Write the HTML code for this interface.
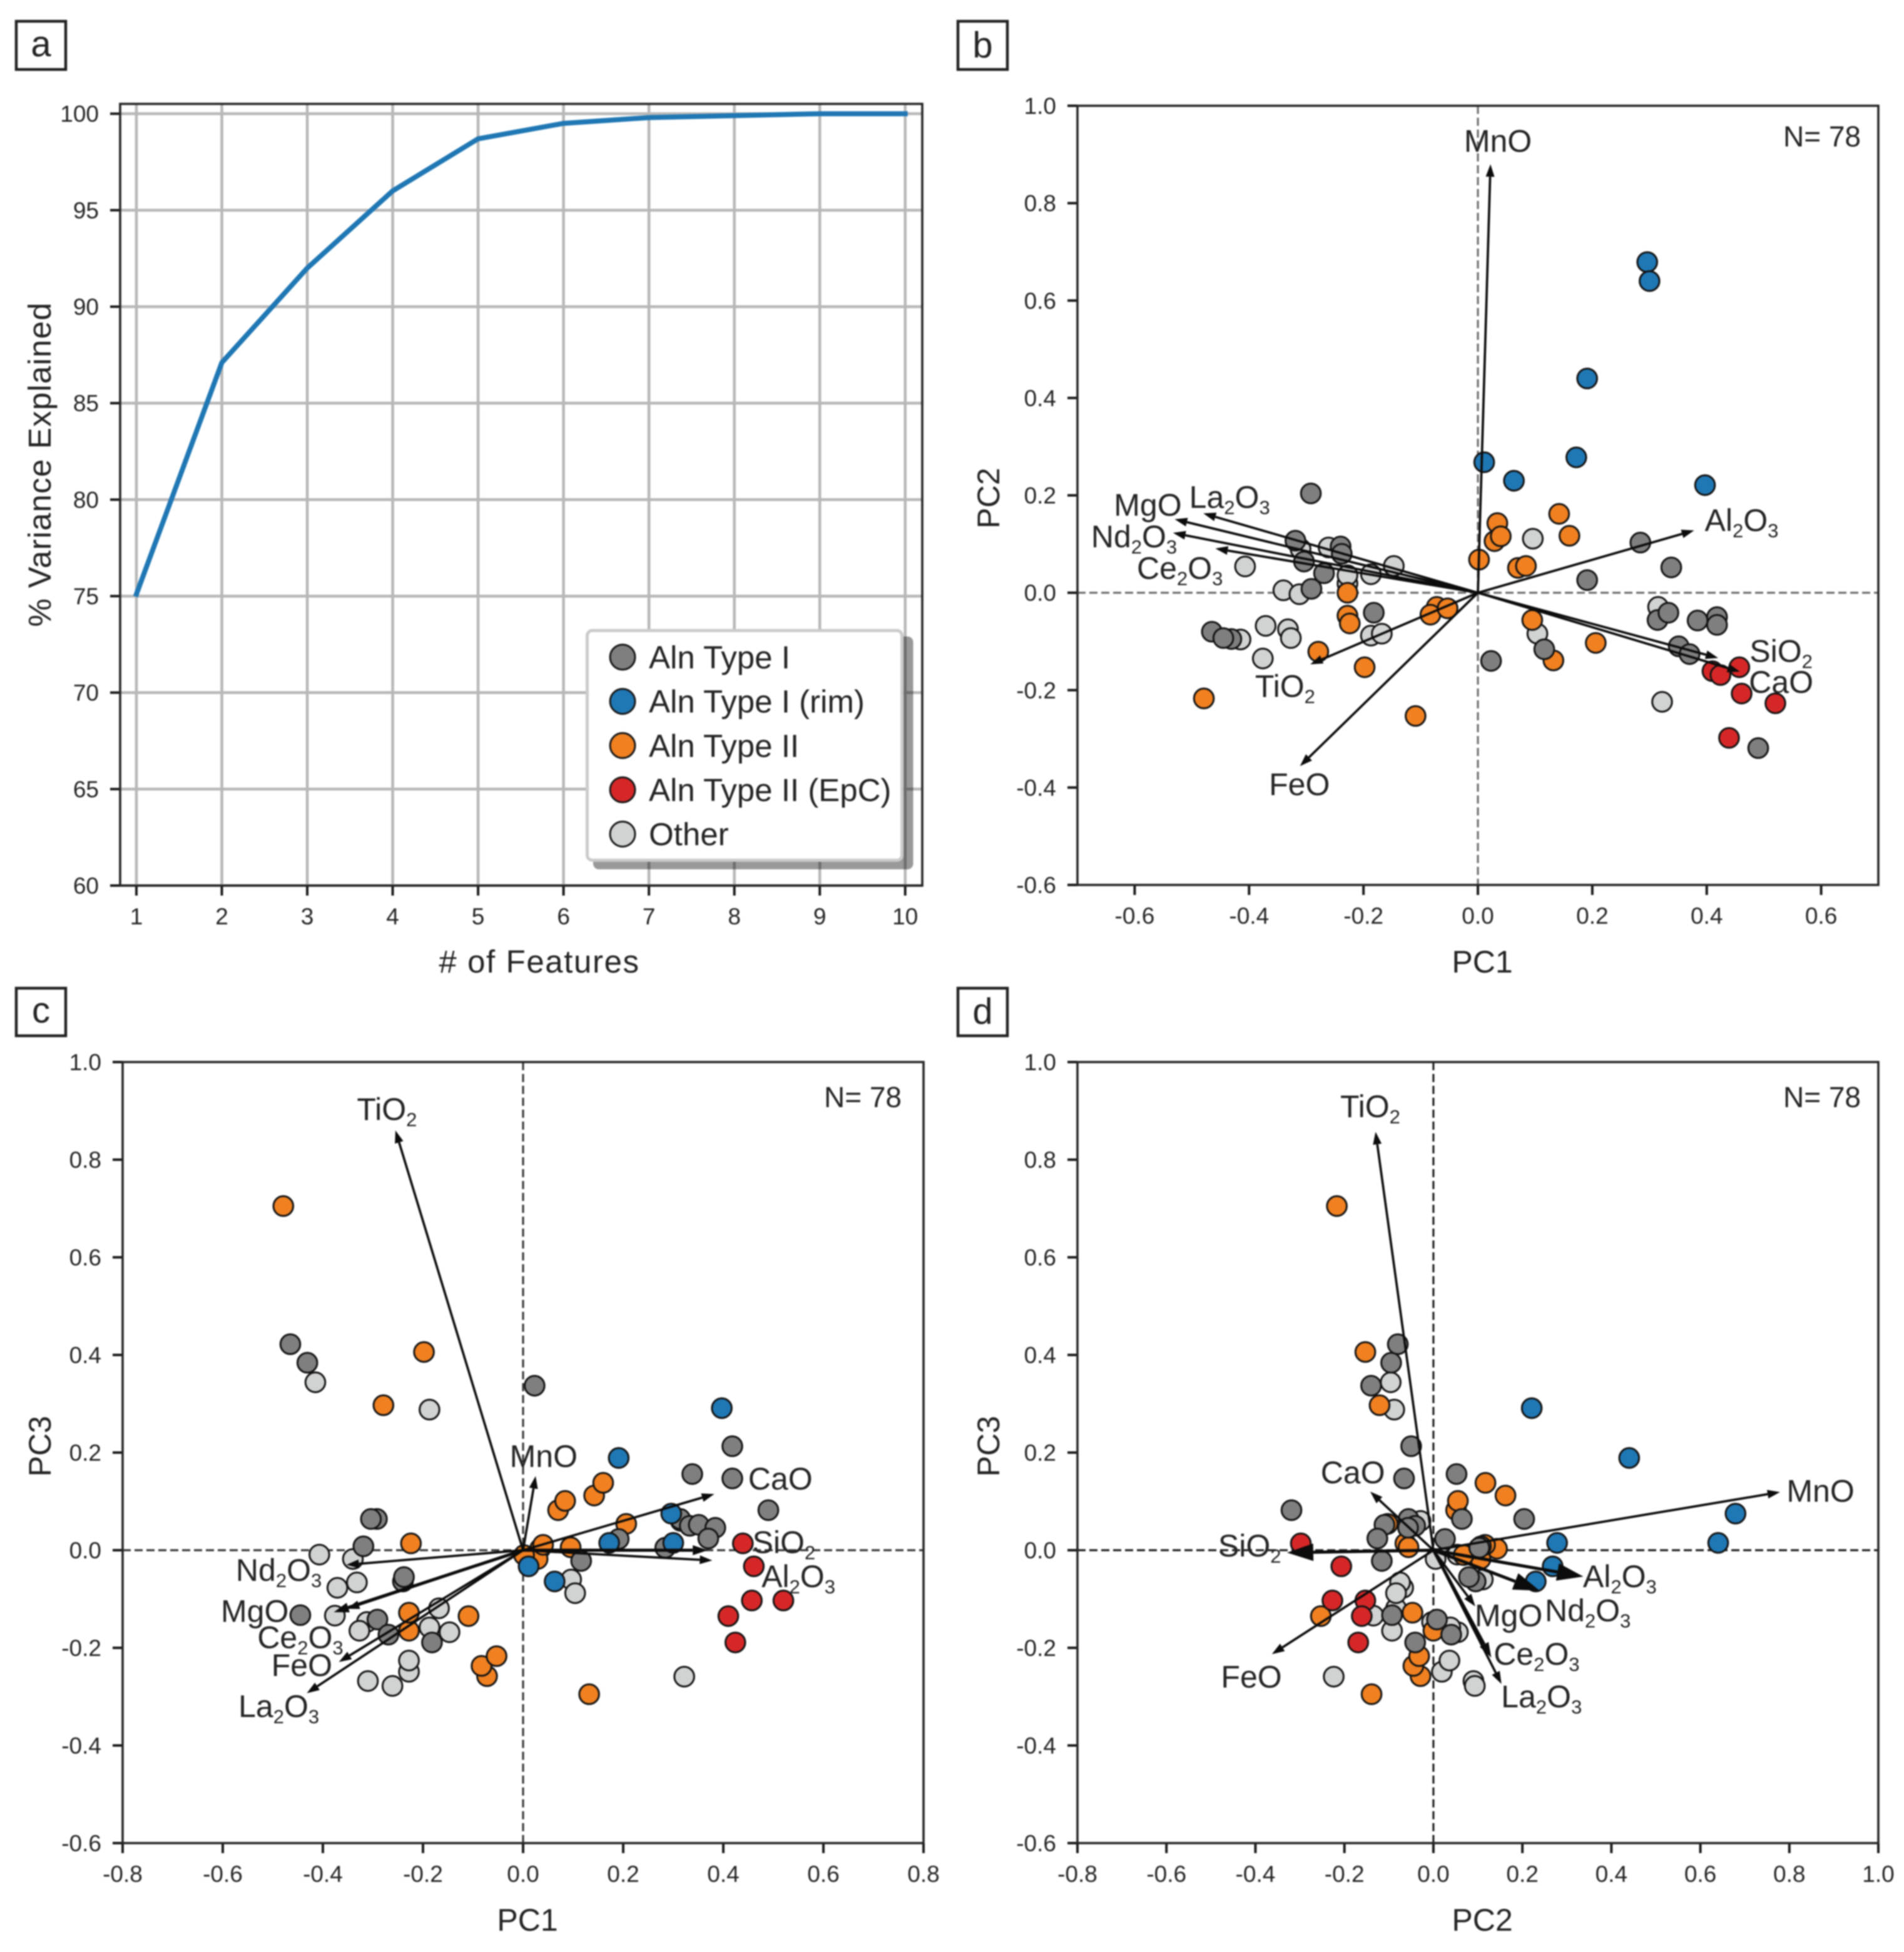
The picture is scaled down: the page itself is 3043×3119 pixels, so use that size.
<!DOCTYPE html>
<html lang="en">
<head>
<meta charset="utf-8">
<title>PCA biplots of allanite compositions</title>
<style>
html,body{margin:0;padding:0;background:#fff;width:3043px;height:3119px;overflow:hidden}
svg{display:block;filter:blur(1px)}
text{font-family:"Liberation Sans",Arial,sans-serif;fill:#242424}
</style>
</head>
<body>
<svg id="figure" xmlns="http://www.w3.org/2000/svg" width="3043" height="3119" viewBox="0 0 3043 3119">
  <rect width="3043" height="3119" fill="#fff"/>

  <g>
    <rect x="26" y="34" width="79" height="77" fill="#fff" stroke="#222" stroke-width="4.5"/>
    <text x="65.5" y="90" font-size="58" text-anchor="middle">a</text>
  </g>
  <g>
    <rect x="1531" y="34" width="79" height="77" fill="#fff" stroke="#222" stroke-width="4.5"/>
    <text x="1570.5" y="92" font-size="58" text-anchor="middle">b</text>
  </g>
  <g>
    <rect x="26" y="1579" width="79" height="76" fill="#fff" stroke="#222" stroke-width="4.5"/>
    <text x="65.5" y="1634" font-size="58" text-anchor="middle">c</text>
  </g>
  <g>
    <rect x="1531" y="1579" width="79" height="76" fill="#fff" stroke="#222" stroke-width="4.5"/>
    <text x="1570.5" y="1636" font-size="58" text-anchor="middle">d</text>
  </g>

  <g id="panel-a"></g>
  <g id="panel-b"></g>
  <g id="panel-c"></g>
  <g id="panel-d"></g>

  <text x="862" y="1554" font-size="51" letter-spacing="1.6" text-anchor="middle"># of Features</text>
  <text transform="translate(81,742) rotate(-90)" font-size="51" letter-spacing="1.2" text-anchor="middle">% Variance Explained</text>
  <text x="2369" y="1554" font-size="50" text-anchor="middle">PC1</text>
  <text transform="translate(1597,796) rotate(-90)" font-size="50" text-anchor="middle">PC2</text>
  <text x="843" y="3085" font-size="50" text-anchor="middle">PC1</text>
  <text transform="translate(81,2311) rotate(-90)" font-size="50" text-anchor="middle">PC3</text>
  <text x="2369" y="3085" font-size="50" text-anchor="middle">PC2</text>
  <text transform="translate(1597,2311) rotate(-90)" font-size="50" text-anchor="middle">PC3</text>

  <text x="2974" y="234" font-size="46" text-anchor="end">N= 78</text>
  <text x="1441" y="1769" font-size="46" text-anchor="end">N= 78</text>
  <text x="2974" y="1769" font-size="46" text-anchor="end">N= 78</text>

  <g>
    <rect x="948" y="1017" width="511.5" height="372" rx="9" fill="#000" fill-opacity="0.4"/>
    <rect x="938.5" y="1007.5" width="503" height="367" rx="8" fill="#fff" stroke="#cbcbcb" stroke-width="5"/>
    <g>
      <circle cx="995" cy="1050" r="20" fill="#7f7f7f" stroke="#1a1a1a" stroke-width="3"/>
      <text x="1037" y="1068" font-size="51">Aln Type I</text>
    </g>
    <g>
      <circle cx="995" cy="1120.7" r="20" fill="#1f77b4" stroke="#1a1a1a" stroke-width="3"/>
      <text x="1037" y="1138.7" font-size="51">Aln Type I (rim)</text>
    </g>
    <g>
      <circle cx="995" cy="1191.3" r="20" fill="#f08020" stroke="#1a1a1a" stroke-width="3"/>
      <text x="1037" y="1209.3" font-size="51">Aln Type II</text>
    </g>
    <g>
      <circle cx="995" cy="1262" r="20" fill="#d62728" stroke="#1a1a1a" stroke-width="3"/>
      <text x="1037" y="1280" font-size="51">Aln Type II (EpC)</text>
    </g>
    <g>
      <circle cx="995" cy="1332.7" r="20" fill="#d1d3d2" stroke="#1a1a1a" stroke-width="3"/>
      <text x="1037" y="1350.7" font-size="51">Other</text>
    </g>
  </g>
</svg>

<script>
/* ---------- panel a data ---------- */
var featureCounts = [1, 2, 3, 4, 5, 6, 7, 8, 9, 10];
var varianceExplained = [75.1, 87.1, 92.0, 96.0, 98.7, 99.5, 99.8, 99.9, 100, 100];
var varianceTicks = [60, 65, 70, 75, 80, 85, 90, 95, 100];

/* ---------- sample scores ---------- */
var otherPc1 = [-.415,-.187,-.407,-.34,-.371,-.332,-.376,-.312,-.31,-.261,-.228,-.228,-.147,-.187,-.327,-.168,.096,.104,.322,.315];
var otherPc2 = [-.096,-.088,.054,.005,-.068,-.075,-.135,-.003,.09,.093,.019,.036,.055,.038,-.093,-.084,.111,-.084,-.224,-.029];
var otherPc3 = [.344,.288,-.009,-.018,-.077,-.066,-.134,-.147,-.268,-.278,-.249,-.226,-.168,-.158,-.165,-.119,-.06,-.088,-.259,.06];

var typeIIPc1 = [.142,.034,.029,.04,.16,.002,.07,.084,-.228,-.228,-.224,-.072,-.083,-.053,.095,.206,.132,-.279,-.198,-.479,-.109];
var typeIIPc2 = [.162,.143,.106,.116,.117,.068,.051,.055,0,-.047,-.063,-.029,-.045,-.032,-.056,-.103,-.139,-.121,-.153,-.217,-.253];
var typeIIPc3 = [.112,.003,-.018,.011,.138,-.01,.082,.101,-.165,-.128,.014,-.258,-.237,-.217,.006,.054,-.295,.297,.406,.705,-.135];

var typeIPc1 = [-.465,-.431,-.445,-.292,-.304,-.319,-.24,-.238,-.291,-.269,-.182,.023,.418,.338,.418,.49,.314,.333,.351,.384,.37,.191,.284,.116];
var typeIPc2 = [-.08,-.095,-.093,.204,.064,.107,.095,.08,.008,.04,-.041,-.14,-.05,.052,-.066,-.319,-.056,-.041,-.11,-.057,-.126,.026,.103,-.116];
var typeIPc3 = [.422,.384,-.133,.064,.064,.008,-.064,-.055,-.142,-.173,-.189,.337,.213,.156,.147,.082,.064,.05,.052,.046,.024,.023,.005,-.022];

var typeIRimPc1 = [.296,.30,.191,.172,.397,.063,.011];
var typeIRimPc2 = [.679,.64,.44,.278,.221,.23,.268];
var typeIRimPc3 = [.075,.015,.189,.015,.291,-.064,-.033];

var typeIIEpcPc1 = [.457,.41,.424,.461,.52,.439];
var typeIIEpcPc2 = [-.153,-.161,-.169,-.207,-.227,-.298];
var typeIIEpcPc3 = [-.103,-.135,-.189,-.033,-.103,.014];

/* ---------- loadings ---------- */
var oxideNames = ['MnO','Al2O3','SiO2','CaO','FeO','TiO2','Ce2O3','Nd2O3','MgO','La2O3'];

var loadingBX = [.022,.378,.42,.458,-.311,-.293,-.459,-.533,-.53,-.48];
var loadingBY = [.88,.128,-.134,-.162,-.356,-.147,.091,.123,.151,.163];
var labelBX = [.035,.461,.53,.53,-.312,-.337,-.521,-.601,-.577,-.434];
var labelBY = [.926,.147,-.121,-.185,-.395,-.193,.049,.114,.179,.195];

var loadingCX = [.025,.378,.369,.382,-.368,-.255,-.352,-.353,-.378,-.432];
var loadingCY = [.152,-.021,0,.115,-.229,.86,-.12,-.03,-.127,-.293];
var labelCX = [.041,.55,.521,.514,-.442,-.272,-.445,-.488,-.536,-.488];
var labelCY = [.191,-.055,.015,.145,-.237,.902,-.18,-.042,-.126,-.321];

var loadingDX = [.779,.337,-.329,-.142,-.363,-.13,.13,.239,.094,.153];
var loadingDY = [.119,-.054,-.005,.12,-.213,.857,-.22,-.083,-.115,-.274];
var labelDX = [.87,.419,-.413,-.181,-.409,-.142,.232,.347,.169,.243];
var labelDY = [.12,-.055,.008,.158,-.261,.908,-.214,-.125,-.135,-.301];

/* ---------- tick labels ---------- */
var scoreTicksB = [-0.6,-0.4,-0.2,0,0.2,0.4,0.6];
var scoreTicksC = [-0.8,-0.6,-0.4,-0.2,0,0.2,0.4,0.6,0.8];
var scoreTicksD = [-0.8,-0.6,-0.4,-0.2,0,0.2,0.4,0.6,0.8,1.0];
var scoreTicksY = [-0.6,-0.4,-0.2,0,0.2,0.4,0.6,0.8,1.0];

var NS = 'http://www.w3.org/2000/svg';
function shape(tag, props, parent) {
  var el = document.createElementNS(NS, tag);
  for (var k in props) { el.setAttribute(k, props[k]); }
  parent.appendChild(el);
  return el;
}
function linear(d0, d1, r0, r1) {
  return function (v) { return r0 + (v - d0) * (r1 - r0) / (d1 - d0); };
}

function drawAxes(host, box, xTicks, yTicks, sx, sy, fmt) {
  var i, tick, label;
  for (i = 0; i < xTicks.length; i++) {
    tick = shape('line', {x1: sx(xTicks[i]), x2: sx(xTicks[i]), y1: box.bottom, y2: box.bottom + 16, stroke: '#1a1a1a', 'stroke-width': 4}, host);
    
    
    label = shape('text', {x: sx(xTicks[i]), y: box.bottom + 62, 'font-size': 37, 'text-anchor': 'middle'}, host);
    label.textContent = fmt(xTicks[i]);
    
    
  }
  for (i = 0; i < yTicks.length; i++) {
    tick = shape('line', {x1: box.left - 16, x2: box.left, y1: sy(yTicks[i]), y2: sy(yTicks[i]), stroke: '#1a1a1a', 'stroke-width': 4}, host);
    
    
    label = shape('text', {x: box.left - 34, y: sy(yTicks[i]) + 13, 'font-size': 37, 'text-anchor': 'end'}, host);
    label.textContent = fmt(yTicks[i]);
    
    
  }
  var frame = shape('rect', {x: box.left, y: box.top, width: box.right - box.left, height: box.bottom - box.top, fill: 'none', stroke: '#262626', 'stroke-width': 3.6}, host);
  
  
}

/* ---------- panel a ---------- */
(function () {
  var host = document.getElementById('panel-a');
  var box = {left: 192, right: 1474, top: 166, bottom: 1415};
  var sx = linear(1, 10, 218, 1446.7);
  var sy = linear(60, 100, 1415, 181.7);
  var i, grid;
  for (i = 0; i < featureCounts.length; i++) {
    grid = shape('line', {x1: sx(featureCounts[i]), x2: sx(featureCounts[i]), y1: box.top, y2: box.bottom, stroke: '#b8b8b8', 'stroke-width': 4.6}, host);
    
    
  }
  for (i = 0; i < varianceTicks.length; i++) {
    grid = shape('line', {x1: box.left, x2: box.right, y1: sy(varianceTicks[i]), y2: sy(varianceTicks[i]), stroke: '#b8b8b8', 'stroke-width': 4.6}, host);
    
    
  }
  var pts = [];
  for (i = 0; i < featureCounts.length; i++) {
    pts.push(sx(featureCounts[i]) + ',' + sy(varianceExplained[i]));
  }
  var curve = shape('polyline', {points: pts.join(' '), fill: 'none', stroke: '#1f77b4', 'stroke-width': 8, 'stroke-linejoin': 'round', 'stroke-linecap': 'square'}, host);
  
  
  drawAxes(host, box, featureCounts, varianceTicks, sx, sy, function (v) { return String(v); });
})();

/* ---------- biplots ---------- */
var groups = [
  {key: 'other', fill: '#d1d3d2', pc: [otherPc1, otherPc2, otherPc3]},
  {key: 'aln-type-ii', fill: '#f08020', pc: [typeIIPc1, typeIIPc2, typeIIPc3]},
  {key: 'aln-type-i', fill: '#7f7f7f', pc: [typeIPc1, typeIPc2, typeIPc3]},
  {key: 'aln-type-i-rim', fill: '#1f77b4', pc: [typeIRimPc1, typeIRimPc2, typeIRimPc3]},
  {key: 'aln-type-ii-epc', fill: '#d62728', pc: [typeIIEpcPc1, typeIIEpcPc2, typeIIEpcPc3]}
];

function drawOxideLabel(host, name, x, y) {
  var t = shape('text', {x: x, y: y + 16, 'font-size': 50, 'text-anchor': 'middle'}, host);
  
  
  var parts = name.match(/[A-Za-z]+|[0-9]/g);
  var lowered = false;
  for (var i = 0; i < parts.length; i++) {
    var span = document.createElementNS(NS, 'tspan');
    span.textContent = parts[i];
    if (/[0-9]/.test(parts[i])) {
      span.setAttribute('font-size', '31');
      span.setAttribute('dy', lowered ? '0' : '10');
      lowered = true;
    } else if (lowered) {
      span.setAttribute('dy', '-10');
      lowered = false;
    }
    t.appendChild(span);
  }
}

function drawArrow(host, name, x0, y0, x1, y1, heavy) {
  var len = Math.sqrt((x1 - x0) * (x1 - x0) + (y1 - y0) * (y1 - y0)) || 1;
  var ux = (x1 - x0) / len, uy = (y1 - y0) / len;
  var headLen = heavy === 2 ? 42 : (heavy === 1 ? 24 : 20);
  var headHalf = heavy === 2 ? 14 : (heavy === 1 ? 8 : 7);
  var weight = heavy === 2 ? 5 : (heavy === 1 ? 5 : 3.7);
  var bx = x1 - ux * headLen, by = y1 - uy * headLen;
  var shaft = shape('line', {x1: x0, y1: y0, x2: bx, y2: by, stroke: '#0c0c0c', 'stroke-width': weight}, host);
  
  
  var tip = [x1, y1, bx - uy * headHalf, by + ux * headHalf, bx + uy * headHalf, by - ux * headHalf].join(' ');
  var head = shape('polygon', {points: tip, fill: '#0c0c0c'}, host);
  
  
}

function drawBiplot(id, box, xLim, xTicks, xPc, yPc, arrowX, arrowY, labelX, labelY, dashColor, weights) {
  var host = document.getElementById(id);
  var sx = linear(xLim[0], xLim[1], box.left, box.right);
  var sy = linear(-0.6, 1.0, box.bottom, box.top);
  var zeroH = shape('line', {x1: box.left, x2: box.right, y1: sy(0), y2: sy(0), stroke: dashColor, 'stroke-width': 3.2, 'stroke-dasharray': '13 6'}, host);
  
  
  var zeroV = shape('line', {x1: sx(0), x2: sx(0), y1: box.top, y2: box.bottom, stroke: dashColor, 'stroke-width': 3.2, 'stroke-dasharray': '13 6'}, host);
  
  
  groups.forEach(function (g) {
    for (var i = 0; i < g.pc[0].length; i++) {
      var dot = shape('circle', {cx: sx(g.pc[xPc][i]), cy: sy(g.pc[yPc][i]), r: 15.8, fill: g.fill, stroke: '#141414', 'stroke-width': 3}, host);
      
      
    }
  });
  oxideNames.forEach(function (name, i) {
    drawArrow(host, name, sx(0), sy(0), sx(arrowX[i]), sy(arrowY[i]), weights[name] || 0);
  });
  oxideNames.forEach(function (name, i) {
    drawOxideLabel(host, name, sx(labelX[i]), sy(labelY[i]));
  });
  drawAxes(host, box, xTicks, scoreTicksY, sx, sy, function (v) { return v.toFixed(1); });
}

drawBiplot('panel-b', {left: 1722, right: 3002, top: 169, bottom: 1414}, [-0.7, 0.7], scoreTicksB, 0, 1,
  loadingBX, loadingBY, labelBX, labelBY, '#707070', {});
drawBiplot('panel-c', {left: 196, right: 1476, top: 1697, bottom: 2945}, [-0.8, 0.8], scoreTicksC, 0, 2,
  loadingCX, loadingCY, labelCX, labelCY, '#3a3a3a', {SiO2: 1, MgO: 1});
drawBiplot('panel-d', {left: 1722, right: 3002, top: 1697, bottom: 2945}, [-0.8, 1.0], scoreTicksD, 1, 2,
  loadingDX, loadingDY, labelDX, labelDY, '#222', {SiO2: 2, Al2O3: 2, Nd2O3: 2, Ce2O3: 1});
</script>
</body>
</html>
